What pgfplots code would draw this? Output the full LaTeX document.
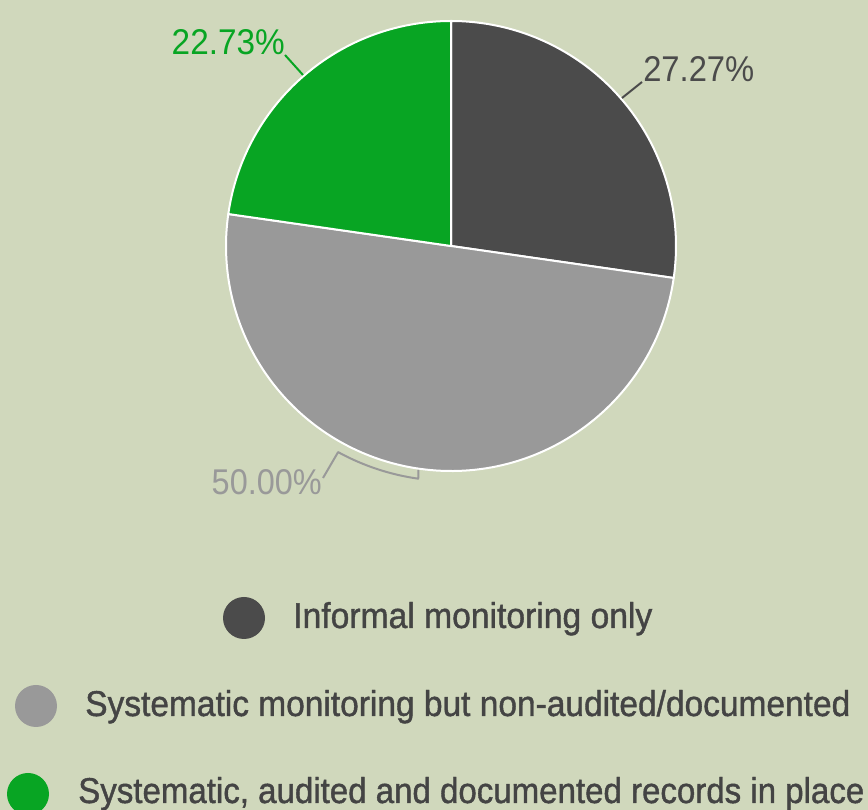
\documentclass[border=0pt]{standalone}
\usepackage{fontspec}
\setmainfont{Liberation Sans}
\newfontfamily\legfont[FakeBold=1.2]{Liberation Sans}
\usepackage{graphicx}
\usepackage{pgfplots}
\usepackage{pgfplotstable}
\pgfplotsset{compat=1.18}
\definecolor{bg}{HTML}{D0D8BC}
\definecolor{cdark}{HTML}{4B4B4B}
\definecolor{cgray}{HTML}{999999}
\definecolor{cgreen}{HTML}{08A523}
\definecolor{legtxt}{HTML}{444444}
\newlength\px \setlength\px{0.75pt}
\pgfplotstableread{
value
27.27
50.00
22.73
}\piedata
\begin{document}
\begin{tikzpicture}
\pgfplotstablegetelem{0}{value}\of\piedata \pgfmathsetmacro\va{\pgfplotsretval}
\pgfplotstablegetelem{1}{value}\of\piedata \pgfmathsetmacro\vb{\pgfplotsretval}
\pgfplotstablegetelem{2}{value}\of\piedata \pgfmathsetmacro\vc{\pgfplotsretval}
\pgfmathsetmacro\aA{90}
\pgfmathsetmacro\aB{\aA-3.6*\va}
\pgfmathsetmacro\aC{\aB-3.6*\vb}
\pgfmathsetmacro\aD{\aC-3.6*\vc}
\begin{axis}[
  width=651pt, height=607.5pt, scale only axis,
  xmin=0, xmax=868, ymin=0, ymax=810,
  hide axis, clip=false]
\fill[bg] (axis cs:0,0) rectangle (axis cs:868,810);
\coordinate (sw) at (axis cs:0,0);
\coordinate (ne) at (axis cs:868,810);
% pie slices
\filldraw[fill=cdark, draw=white, line width=1.5pt, line join=round] (axis cs:451,564) -- ++(\aA:168.75pt) arc[start angle=\aA, end angle=\aB, radius=168.75pt] -- cycle;
\filldraw[fill=cgray, draw=white, line width=1.5pt, line join=round] (axis cs:451,564) -- ++(\aB:168.75pt) arc[start angle=\aB, end angle=\aC, radius=168.75pt] -- cycle;
\filldraw[fill=cgreen, draw=white, line width=1.5pt, line join=round] (axis cs:451,564) -- ++(\aC:168.75pt) arc[start angle=\aC, end angle=\aD, radius=168.75pt] -- cycle;
% labels
\draw[cgreen, line width=1.5pt] (axis cs:285,755) -- (axis cs:303,735);
\node[anchor=base east, inner sep=0, text=cgreen] at (axis cs:285,755) {\resizebox{113\px}{25\px}{22.73\%}};
\draw[cdark, line width=1.5pt] (axis cs:622,712) -- (axis cs:642,728);
\node[anchor=base west, inner sep=0, text=cdark] at (axis cs:643,728) {\resizebox{111\px}{25\px}{27.27\%}};
\draw[cgray, line width=1.5pt, line join=round] (axis cs:323,332) -- (axis cs:338.1,357.9) arc[start angle=-118.7, end angle=-98, radius=176.25pt] -- (axis cs:418.3,340);
\node[anchor=base east, inner sep=0, text=cgray] at (axis cs:322,315) {\resizebox{110\px}{25\px}{50.00\%}};
% legend
\fill[cdark] (axis cs:244,192) circle[radius=15.75pt];
\node[anchor=base west, inner sep=0, text=legtxt] at (axis cs:293,182) {\resizebox{359\px}{26\px}{\legfont Informal monitoring only}};
\fill[cgray] (axis cs:36,104) circle[radius=15.75pt];
\node[anchor=base west, inner sep=0, text=legtxt] at (axis cs:85,94) {\resizebox{765\px}{26\px}{\legfont Systematic monitoring but non-audited/documented}};
\fill[cgreen] (axis cs:28,16) circle[radius=15.75pt];
\node[anchor=base west, inner sep=0, text=legtxt] at (axis cs:78,7) {\resizebox{786\px}{26\px}{\legfont Systematic, audited and documented records in place}};
\end{axis}
\pgfresetboundingbox
\path[use as bounding box] (sw) rectangle (ne);
\end{tikzpicture}
\end{document}
